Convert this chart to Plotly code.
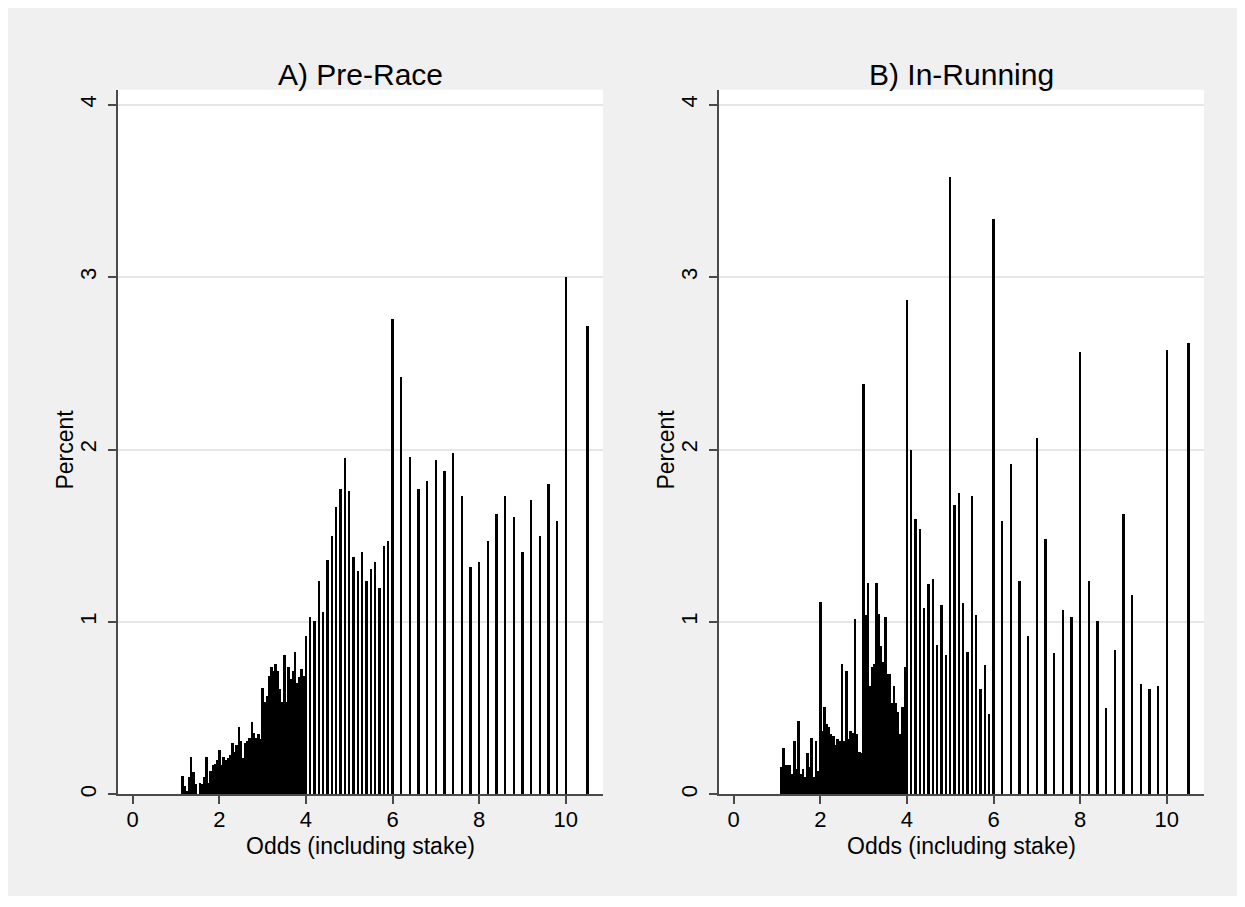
import plotly.graph_objects as go

# ---------------- data ----------------
odds_bins = [
    1.10, 1.15, 1.20, 1.25, 1.30, 1.35, 1.40, 1.45, 1.50, 1.55,
    1.60, 1.65, 1.70, 1.75, 1.80, 1.85, 1.90, 1.95, 2.00, 2.05,
    2.10, 2.15, 2.20, 2.25, 2.30, 2.35, 2.40, 2.45, 2.50, 2.55,
    2.60, 2.65, 2.70, 2.75, 2.80, 2.85, 2.90, 2.95, 3.00, 3.05,
    3.10, 3.15, 3.20, 3.25, 3.30, 3.35, 3.40, 3.45, 3.50, 3.55,
    3.60, 3.65, 3.70, 3.75, 3.80, 3.85, 3.90, 3.95,
    4.0, 4.1, 4.2, 4.3, 4.4, 4.5, 4.6, 4.7, 4.8, 4.9,
    5.0, 5.1, 5.2, 5.3, 5.4, 5.5, 5.6, 5.7, 5.8, 5.9,
    6.0, 6.2, 6.4, 6.6, 6.8, 7.0, 7.2, 7.4, 7.6, 7.8,
    8.0, 8.2, 8.4, 8.6, 8.8, 9.0, 9.2, 9.4, 9.6, 9.8,
    10.0, 10.5,
]

pct_pre_race = [
    0.00, 0.11, 0.05, 0.02, 0.10, 0.22, 0.13, 0.06, 0.00, 0.07,
    0.06, 0.10, 0.22, 0.07, 0.14, 0.17, 0.18, 0.20, 0.26, 0.17,
    0.22, 0.20, 0.21, 0.23, 0.30, 0.25, 0.29, 0.39, 0.31, 0.21,
    0.30, 0.31, 0.33, 0.42, 0.36, 0.33, 0.35, 0.32, 0.62, 0.54,
    0.57, 0.69, 0.74, 0.72, 0.76, 0.72, 0.61, 0.54, 0.81, 0.54,
    0.74, 0.67, 0.72, 0.83, 0.65, 0.68, 0.73, 0.69,
    0.92, 1.03, 1.01, 1.24, 1.06, 1.36, 1.50, 1.67, 1.77, 1.95,
    1.76, 1.38, 1.30, 1.41, 1.24, 1.31, 1.35, 1.20, 1.44, 1.47,
    2.76, 2.42, 1.96, 1.77, 1.82, 1.94, 1.88, 1.98, 1.73, 1.32,
    1.35, 1.47, 1.63, 1.73, 1.61, 1.41, 1.71, 1.50, 1.80, 1.59,
    3.00, 2.72,
]

pct_in_running = [
    0.16, 0.27, 0.17, 0.17, 0.17, 0.12, 0.31, 0.15, 0.43, 0.12,
    0.15, 0.10, 0.24, 0.16, 0.33, 0.10, 0.31, 0.14, 1.12, 0.37,
    0.51, 0.41, 0.39, 0.35, 0.34, 0.29, 0.32, 0.31, 0.76, 0.31,
    0.72, 0.32, 0.37, 0.36, 1.02, 0.35, 0.25, 0.24, 2.38, 1.04,
    1.23, 0.63, 0.74, 0.76, 1.23, 1.05, 0.86, 0.77, 1.03, 0.70,
    0.70, 0.53, 0.63, 0.53, 0.48, 0.35, 0.51, 0.74,
    2.87, 2.00, 1.60, 1.54, 1.08, 1.22, 1.25, 0.87, 1.10, 0.81,
    3.58, 1.68, 1.75, 1.11, 0.83, 1.73, 1.04, 0.61, 0.75, 0.47,
    3.34, 1.59, 1.92, 1.24, 0.92, 2.07, 1.48, 0.82, 1.07, 1.03,
    2.57, 1.24, 1.01, 0.50, 0.84, 1.63, 1.16, 0.64, 0.61, 0.63,
    2.58, 2.62,
]

panel_titles = ["A) Pre-Race", "B) In-Running"]
x_title = "Odds (including stake)"
y_title = "Percent"
x_ticks = [0, 2, 4, 6, 8, 10]
y_ticks = [0, 1, 2, 3, 4]

# ---------------- layout geometry ----------------
W, H = 1245, 907
FONT = "Liberation Sans, Arial, Helvetica, sans-serif"
AXIS_COL = "#4a4a4a"
GRID_COL = "#e6e6e6"

def px_x(p):
    return p / W

def px_y(p):
    return 1 - p / H

dom_left = [px_x(118), px_x(603)]
dom_right = [px_x(719), px_x(1204)]
dom_y = [px_y(797), px_y(90)]

fig = go.Figure()
fig.add_trace(go.Bar(x=odds_bins, y=pct_pre_race, width=0.056,
                     marker=dict(color="black", line=dict(width=0)),
                     xaxis="x", yaxis="y", showlegend=False))
fig.add_trace(go.Bar(x=odds_bins, y=pct_in_running, width=0.056,
                     marker=dict(color="black", line=dict(width=0)),
                     xaxis="x2", yaxis="y2", showlegend=False))

xaxis_common = dict(
    range=[-0.34, 10.86], tickvals=x_ticks, ticks="outside", ticklen=8,
    tickwidth=1.5, tickcolor=AXIS_COL, showline=True, linecolor=AXIS_COL,
    linewidth=1.5, showgrid=False, zeroline=False, ticklabelstandoff=-4,
    tickfont=dict(family=FONT, size=22, color="black"), fixedrange=True,
)
yaxis_common = dict(
    range=[0, 4.087], tickvals=y_ticks, ticks="outside", ticklen=8,
    tickwidth=1.5, tickcolor=AXIS_COL, showline=True, linecolor=AXIS_COL,
    linewidth=1.5, showgrid=True, gridcolor=GRID_COL, gridwidth=1.5,
    zeroline=False, tickangle=-90, ticklabelstandoff=3,
    tickfont=dict(family=FONT, size=22, color="black"), fixedrange=True,
)

fig.update_layout(
    width=W, height=H, autosize=False,
    margin=dict(l=0, r=0, t=0, b=0, pad=0),
    paper_bgcolor="#f0f0f0", plot_bgcolor="white",
    bargap=0, barmode="overlay",
    xaxis=dict(domain=dom_left, anchor="y", **xaxis_common),
    yaxis=dict(domain=dom_y, anchor="x", **yaxis_common),
    xaxis2=dict(domain=dom_right, anchor="y2", **xaxis_common),
    yaxis2=dict(domain=dom_y, anchor="x2", **yaxis_common),
    font=dict(family=FONT, color="black"),
)

annotations = []
for dom, title in zip([dom_left, dom_right], panel_titles):
    cx = (dom[0] + dom[1]) / 2
    annotations.append(dict(text=title, x=cx, y=px_y(75), xref="paper", yref="paper",
                            showarrow=False, xanchor="center", yanchor="middle",
                            font=dict(family=FONT, size=30, color="black")))
    annotations.append(dict(text=x_title, x=cx, y=px_y(849), xref="paper", yref="paper",
                            showarrow=False, xanchor="center", yanchor="middle",
                            font=dict(family=FONT, size=23, color="black")))
for xpos in [65, 666]:
    annotations.append(dict(text=y_title, x=px_x(xpos), y=px_y(451), xref="paper", yref="paper",
                            showarrow=False, xanchor="center", yanchor="middle", textangle=-90,
                            font=dict(family=FONT, size=23, color="black")))
fig.update_layout(annotations=annotations)

# white outer frame
fig.add_shape(type="rect", xref="paper", yref="paper", x0=0, y0=0, x1=1, y1=1,
              line=dict(color="white", width=16), fillcolor="rgba(0,0,0,0)", layer="above")

fig.write_html("out.html", config={"displayModeBar": False},
               post_script="document.body.style.margin='0';document.body.style.overflow='hidden';")
